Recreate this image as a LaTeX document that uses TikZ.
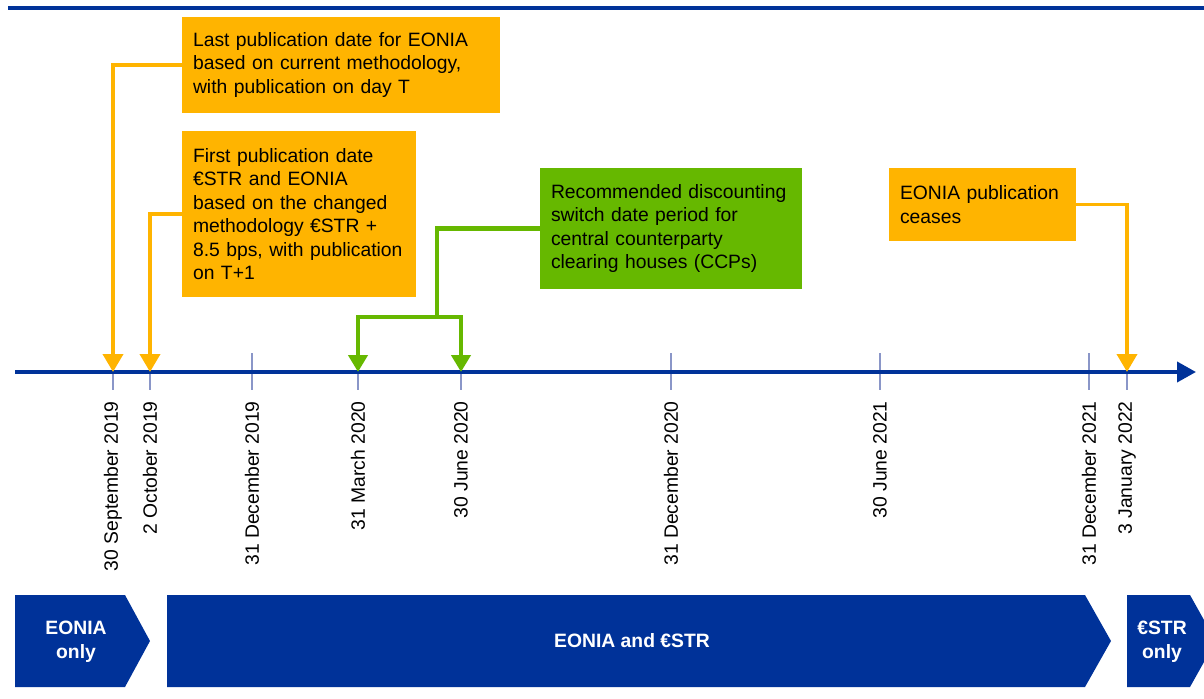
\documentclass[tikz,border=0pt]{standalone}
\usepackage{fontspec}
\setmainfont{Liberation Sans}
\usetikzlibrary{arrows.meta}
\definecolor{ecbblue}{RGB}{0,50,153}
\definecolor{tickblue}{RGB}{138,150,200}
\definecolor{ecborange}{RGB}{255,180,0}
\definecolor{ecbgreen}{RGB}{102,184,0}
\begin{document}
\begin{tikzpicture}[x=0.02cm,y=-0.02cm,
  notebox/.style={fill=#1,text=black,align=left,inner xsep=0.22cm,inner ysep=0pt,font=\fontsize{11}{13.4}\selectfont},
  orangelink/.style={ecborange,line width=2.2pt,-{Triangle[width=0.4cm,length=0.36cm]}},
  greenlink/.style={ecbgreen,line width=2.6pt},
  greenhead/.style={-{Triangle[width=0.38cm,length=0.34cm]}},
  datetick/.style={tickblue,line width=0.9pt},
  datelabel/.style={rotate=90,anchor=east,inner sep=0pt,font=\fontsize{11}{13}\selectfont},
  phaselabel/.style={text=white,align=center,font=\bfseries\fontsize{11}{13.6}\selectfont}]
\useasboundingbox (0,0) rectangle (1204,699);
\draw[ecbblue,line width=2.2pt] (8,8) -- (1204,8);
\node[notebox=ecborange,text width=5.92cm,minimum height=1.92cm] (lastpub) at (341,65) {Last publication date for EONIA\\based on current methodology,\\with publication on day T};
\node[notebox=ecborange,text width=4.24cm,minimum height=3.32cm] (firstpub) at (299,214) {First publication date\\€STR and EONIA\\based on the changed\\methodology €STR +\\8.5 bps, with publication\\on T+1};
\node[notebox=ecbgreen,text width=4.8cm,minimum height=2.42cm] (switch) at (671,228.5) {Recommended discounting\\switch date period for\\central counterparty\\clearing houses (CCPs)};
\node[notebox=ecborange,text width=3.3cm,minimum height=1.46cm] (ceases) at (982.5,204.5) {EONIA publication\\ceases};
\coordinate (start) at (15,372);
\coordinate (end) at (1196,372);
\coordinate (sep19) at (113,372);
\coordinate (oct19) at (150,372);
\coordinate (dec19) at (252,372);
\coordinate (mar20) at (358,372);
\coordinate (jun20) at (461,372);
\coordinate (dec20) at (671,372);
\coordinate (jun21) at (880,372);
\coordinate (dec21) at (1089,372);
\coordinate (jan22) at (1127,372);
\draw[datetick] (sep19) ++(0,-19) -- ++(0,37);
\draw[datetick] (oct19) ++(0,-19) -- ++(0,37);
\draw[datetick] (dec19) ++(0,-19) -- ++(0,37);
\draw[datetick] (mar20) ++(0,-19) -- ++(0,37);
\draw[datetick] (jun20) ++(0,-19) -- ++(0,37);
\draw[datetick] (dec20) ++(0,-19) -- ++(0,37);
\draw[datetick] (jun21) ++(0,-19) -- ++(0,37);
\draw[datetick] (dec21) ++(0,-19) -- ++(0,37);
\draw[datetick] (jan22) ++(0,-19) -- ++(0,37);
\draw[ecbblue,line width=2.2pt,-{Triangle[width=0.4cm,length=0.38cm]}] (start) -- (end);
\node[datelabel] (lsep19) at (113,401) {30 September 2019};
\node[datelabel] (loct19) at (150,401) {2 October 2019};
\node[datelabel] (ldec19) at (252,401) {31 December 2019};
\node[datelabel] (lmar20) at (358,401) {31 March 2020};
\node[datelabel] (ljun20) at (461,401) {30 June 2020};
\node[datelabel] (ldec20) at (671,401) {31 December 2020};
\node[datelabel] (ljun21) at (880,401) {30 June 2021};
\node[datelabel] (ldec21) at (1089,401) {31 December 2021};
\node[datelabel] (ljan22) at (1127,401) {3 January 2022};
\draw[orangelink] (lastpub.west) -| (sep19);
\draw[orangelink] (firstpub.west) -| (oct19);
\draw[orangelink] (ceases.east) -| (jan22);
\coordinate (fork) at (437,317);
\draw[greenlink] (switch.west) -| (fork);
\draw[greenlink,greenhead] (fork) -| (mar20);
\draw[greenlink,greenhead] (fork) -| (jun20);
\fill[ecbblue] (15,595) -- (125,595) -- (150,641) -- (125,687) -- (15,687) -- cycle;
\node[phaselabel] (eoniaonly) at (76,642) {EONIA\\only};
\fill[ecbblue] (167,595) -- (1085,595) -- (1111,641) -- (1085,687) -- (167,687) -- cycle;
\node[phaselabel] (both) at (632,641) {EONIA and €STR};
\fill[ecbblue] (1127,595) -- (1190,595) -- (1204,620) -- (1204,662) -- (1190,687) -- (1127,687) -- cycle;
\node[phaselabel] (estronly) at (1162,642) {€STR\\only};
\end{tikzpicture}
\end{document}
